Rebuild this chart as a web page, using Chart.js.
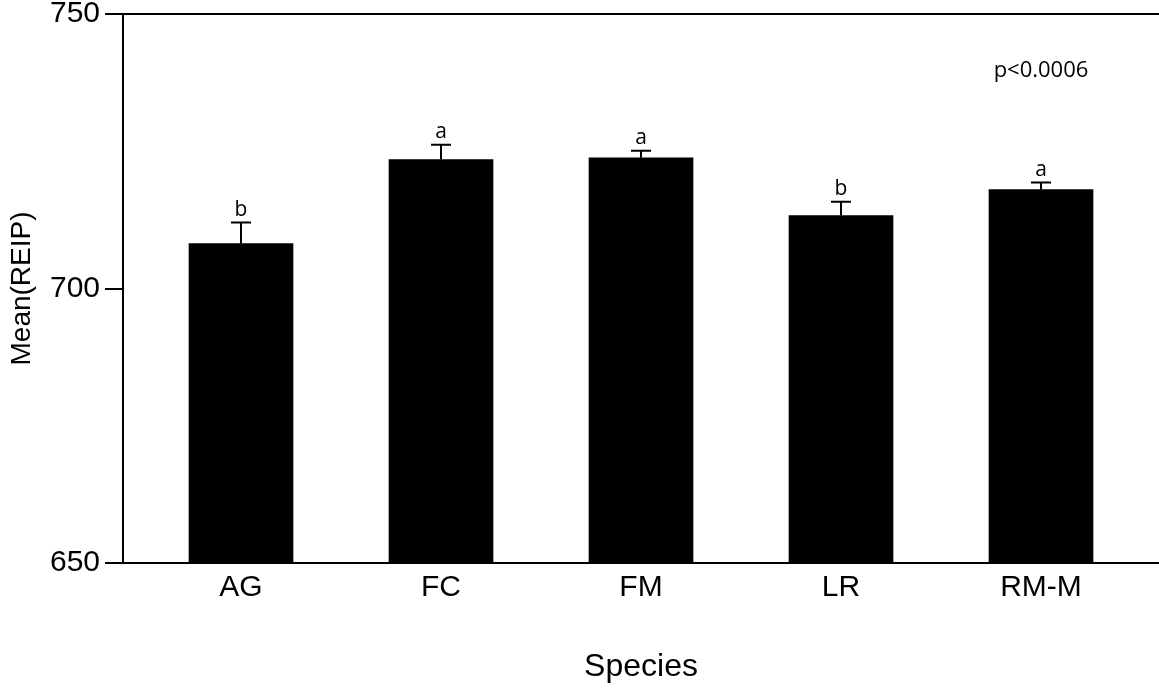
<!DOCTYPE html>
<html>
<head>
<meta charset="utf-8">
<script src="https://cdn.jsdelivr.net/npm/chart.js@4"></script>
<style>
  html, body { margin: 0; padding: 0; background: #fff; }
  #wrap { width: 1159px; height: 688px; }
</style>
</head>
<body>
<div id="wrap"><canvas id="myChart" width="1159" height="688"></canvas></div>
<script>
const species = ['AG', 'FC', 'FM', 'LR', 'RM-M'];
const means = [708.2, 723.5, 723.8, 713.3, 718.0];
const errors = [3.8, 2.7, 1.3, 2.5, 1.3];
const letters = ['b', 'a', 'a', 'b', 'a'];
const yTicks = [650, 700, 750];
const pText = 'p<0.0006';

const barData = [];
for (let i = 0; i < species.length; i++) {
  barData.push({ x: i + 1, y: means[i] });
}

// error bars, group letters and p value
const errorBars = {
  id: 'errorBars',
  afterDatasetsDraw(chart) {
    const ctx = chart.ctx;
    const xs = chart.scales.x;
    const ys = chart.scales.y;
    ctx.save();
    ctx.strokeStyle = '#000';
    ctx.fillStyle = '#000';
    ctx.lineWidth = 2;
    for (let i = 0; i < means.length; i++) {
      let x = xs.getPixelForValue(i + 1);
      let yBar = ys.getPixelForValue(means[i]);
      let yTop = ys.getPixelForValue(means[i] + errors[i]);
      ctx.beginPath();
      ctx.moveTo(x, yBar);
      ctx.lineTo(x, yTop);
      ctx.moveTo(x - 10, yTop);
      ctx.lineTo(x + 10, yTop);
      ctx.stroke();
      ctx.font = '21px "Open Sans"';
      ctx.textAlign = 'center';
      ctx.textBaseline = 'alphabetic';
      ctx.fillText(letters[i], x, yTop - 7);
    }
    ctx.font = '22px "Open Sans"';
    ctx.textAlign = 'center';
    ctx.fillText(pText, xs.getPixelForValue(5), ys.getPixelForValue(738.6));
    ctx.restore();
  }
};

const ctx = document.getElementById('myChart');

new Chart(ctx, {
  type: 'bar',
  data: {
    datasets: [{
      data: barData,
      backgroundColor: '#000',
      borderWidth: 0,
      barThickness: 104
    }]
  },
  options: {
    responsive: false,
    animation: false,
    layout: { padding: { top: 14, right: 0, left: 0, bottom: 0 } },
    plugins: {
      legend: { display: false },
      tooltip: { enabled: false }
    },
    scales: {
      x: {
        type: 'linear',
        offset: false,
        min: 0.41,
        max: 5.59,
        afterBuildTicks: (scale) => {
          scale.ticks = species.map((s, i) => ({ value: i + 1 }));
        },
        afterFit: (scale) => { scale.height = 125; },
        grid: { display: false, drawTicks: false },
        border: { display: true, color: '#000', width: 2 },
        ticks: {
          color: '#000',
          padding: 7,
          font: { family: '"Liberation Sans", Arial', size: 30 },
          callback: (v) => species[v - 1]
        },
        title: {
          display: true,
          text: 'Species',
          color: '#000',
          font: { family: '"Liberation Sans", Arial', size: 32, lineHeight: 1.2 },
          padding: { top: 0, bottom: 2 }
        }
      },
      y: {
        min: 650,
        max: 750,
        afterBuildTicks: (scale) => {
          scale.ticks = yTicks.map(v => ({ value: v }));
        },
        afterFit: (scale) => {
          scale.width = 123;
          scale.paddingTop = 0;
          scale.paddingBottom = 0;
        },
        grid: {
          color: (c) => (c.tick && c.tick.value === 750) ? '#000' : 'rgba(0,0,0,0)',
          tickColor: '#000',
          tickLength: 18,
          lineWidth: 2
        },
        border: { display: true, color: '#000', width: 2 },
        ticks: {
          color: '#000',
          padding: 5,
          font: { family: '"Liberation Sans", Arial', size: 30, lineHeight: 0.8 }
        },
        title: {
          display: true,
          text: 'Mean(REIP)',
          color: '#000',
          font: { family: '"Liberation Sans", Arial', size: 28, lineHeight: 1.2 },
          padding: { top: 5, bottom: 0 }
        }
      }
    }
  },
  plugins: [errorBars]
});
</script>
</body>
</html>
